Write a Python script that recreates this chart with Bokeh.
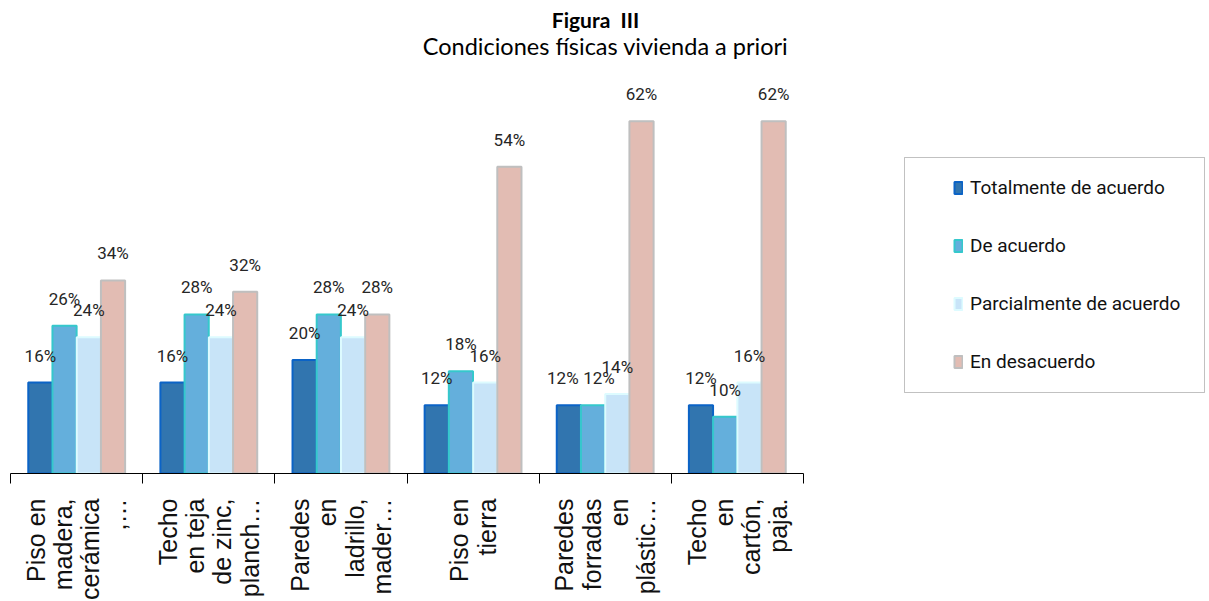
from math import pi
from bokeh.plotting import figure
from bokeh.models import (Range1d, FixedTicker, LinearAxis, Legend, LegendItem,
                          Label, ColumnDataSource, BoxAnnotation)
from bokeh.layouts import row
from bokeh.embed import file_html
from bokeh.resources import INLINE
from bokeh.core.properties import value

# ---------------- data ----------------
categories = [
    "Piso en\nmadera,\ncerámica\n,…",
    "Techo\nen teja\nde zinc,\nplanch…",
    "Paredes\nen\nladrillo,\nmader…",
    "Piso en\ntierra",
    "Paredes\nforradas\nen\nplástic…",
    "Techo\nen\ncartón,\npaja.",
]
series_names = ["Totalmente de acuerdo", "De acuerdo",
                "Parcialmente de acuerdo", "En desacuerdo"]
totalmente = [16, 16, 20, 12, 12, 12]
de_acuerdo = [26, 28, 28, 18, 12, 10]
parcialmente = [24, 24, 24, 16, 14, 16]
desacuerdo = [34, 32, 28, 54, 62, 62]

series_values = [totalmente, de_acuerdo, parcialmente, desacuerdo]
fill_colors = ["#3175AF", "#64AFDC", "#C8E4F8", "#E2BCB3"]
line_colors = ["#0B63C6", "#35C8CC", "#DDFBFF", "#BFBFBF"]
offsets = [-0.275, -0.092, 0.092, 0.275]
bar_w = 0.183

PX_PER_PCT = 5.68
FRAME_H = 473

# nudge apart labels of adjacent bars with equal values (avoid overlap)
n_groups = len(categories)
label_dx = [[0] * n_groups for _ in series_values]
for g in range(n_groups):
    for s in range(len(series_values) - 1):
        if series_values[s][g] == series_values[s + 1][g]:
            label_dx[s][g] -= 6
            label_dx[s + 1][g] += 6

p = figure(frame_width=793, frame_height=FRAME_H,
           x_range=Range1d(-0.001, 6.001), y_range=Range1d(0, FRAME_H / PX_PER_PCT),
           x_axis_location=None, y_axis_location=None,
           min_border_left=10, min_border_right=20, min_border_top=0,
           min_border_bottom=120, toolbar_location=None, output_backend="svg",
           outline_line_color=None)
p.grid.visible = False

xaxis = LinearAxis(
    ticker=FixedTicker(ticks=[i + 0.5 for i in range(n_groups)],
                       minor_ticks=list(range(n_groups + 1))),
    major_label_overrides={i + 0.5: c for i, c in enumerate(categories)},
    major_label_orientation=pi / 2,
    major_tick_line_color=None, major_tick_out=0, major_tick_in=0,
    minor_tick_line_color="black", minor_tick_out=10, minor_tick_in=0,
    axis_line_color="black", axis_line_width=1,
    major_label_standoff=15,
    major_label_text_font="Liberation Sans", major_label_text_font_size="25px",
    major_label_text_line_height=0.97, major_label_text_align="center",
    major_label_text_color="#111111",
)
p.add_layout(xaxis, "below")

sources = []
for s, (vals, off) in enumerate(zip(series_values, offsets)):
    src = ColumnDataSource(dict(
        x=[i + 0.5 + off for i in range(len(vals))],
        top=vals,
        label=[f"{v}%" for v in vals],
        dx=label_dx[s],
    ))
    sources.append(src)

for src, fc, lc in zip(sources, fill_colors, line_colors):
    p.vbar(x="x", top="top", width=bar_w, source=src, fill_color=fc,
           line_color=lc, line_width=2)

for src in sources:
    p.text(x="x", y="top", text="label", source=src, text_align="center",
           text_baseline="middle", x_offset="dx", y_offset=-27,
           text_font=value("Roboto"), text_font_size="17px",
           text_color="#262626")

# titles (screen units relative to frame bottom-left)
p.add_layout(Label(x=585, y=454, x_units="screen", y_units="screen",
                   text="Figura\u00a0\u00a0III", text_align="center",
                   text_baseline="alphabetic",
                   text_font="Lato", text_font_size="21px", text_font_style="bold",
                   text_color="#000000"))
p.add_layout(Label(x=595, y=428, x_units="screen", y_units="screen",
                   text="Condiciones físicas vivienda a priori", text_align="center",
                   text_baseline="alphabetic", text_font="Lato", text_font_size="23.5px",
                   text_color="#000000"))

# ---------------- legend panel ----------------
# hidden copies of the bar renderers supply the legend swatches
p2 = figure(frame_width=302, frame_height=FRAME_H,
            x_range=Range1d(0, 6), y_range=Range1d(0, FRAME_H / PX_PER_PCT),
            x_axis_location=None, y_axis_location=None,
            min_border_left=80, min_border_right=2, min_border_top=0,
            min_border_bottom=120, toolbar_location=None, output_backend="svg",
            outline_line_color=None)
p2.grid.visible = False

p2.add_layout(BoxAnnotation(left=1, right=301, top=316, bottom=81,
                            left_units="screen", right_units="screen",
                            top_units="screen", bottom_units="screen",
                            fill_alpha=0, line_color="#333333", line_width=1))

items = []
for name, src, fc, lc in zip(series_names, sources, fill_colors, line_colors):
    r = p2.vbar(x="x", top="top", width=bar_w, source=src, fill_color=fc,
                line_color=lc, line_width=2, visible=False)
    items.append(LegendItem(label=name, renderers=[r]))

legend = Legend(items=items, location=(50, 99), orientation="vertical",
                border_line_color=None, background_fill_alpha=0,
                inactive_fill_alpha=0,
                padding=0, margin=0, spacing=32, glyph_width=10, glyph_height=15,
                label_standoff=7, label_height=26,
                label_text_font="Roboto", label_text_font_size="19px",
                label_text_color="#111111")
p2.add_layout(legend, "center")

layout = row(p, p2)
open("out.html", "w").write(file_html(layout, INLINE))
